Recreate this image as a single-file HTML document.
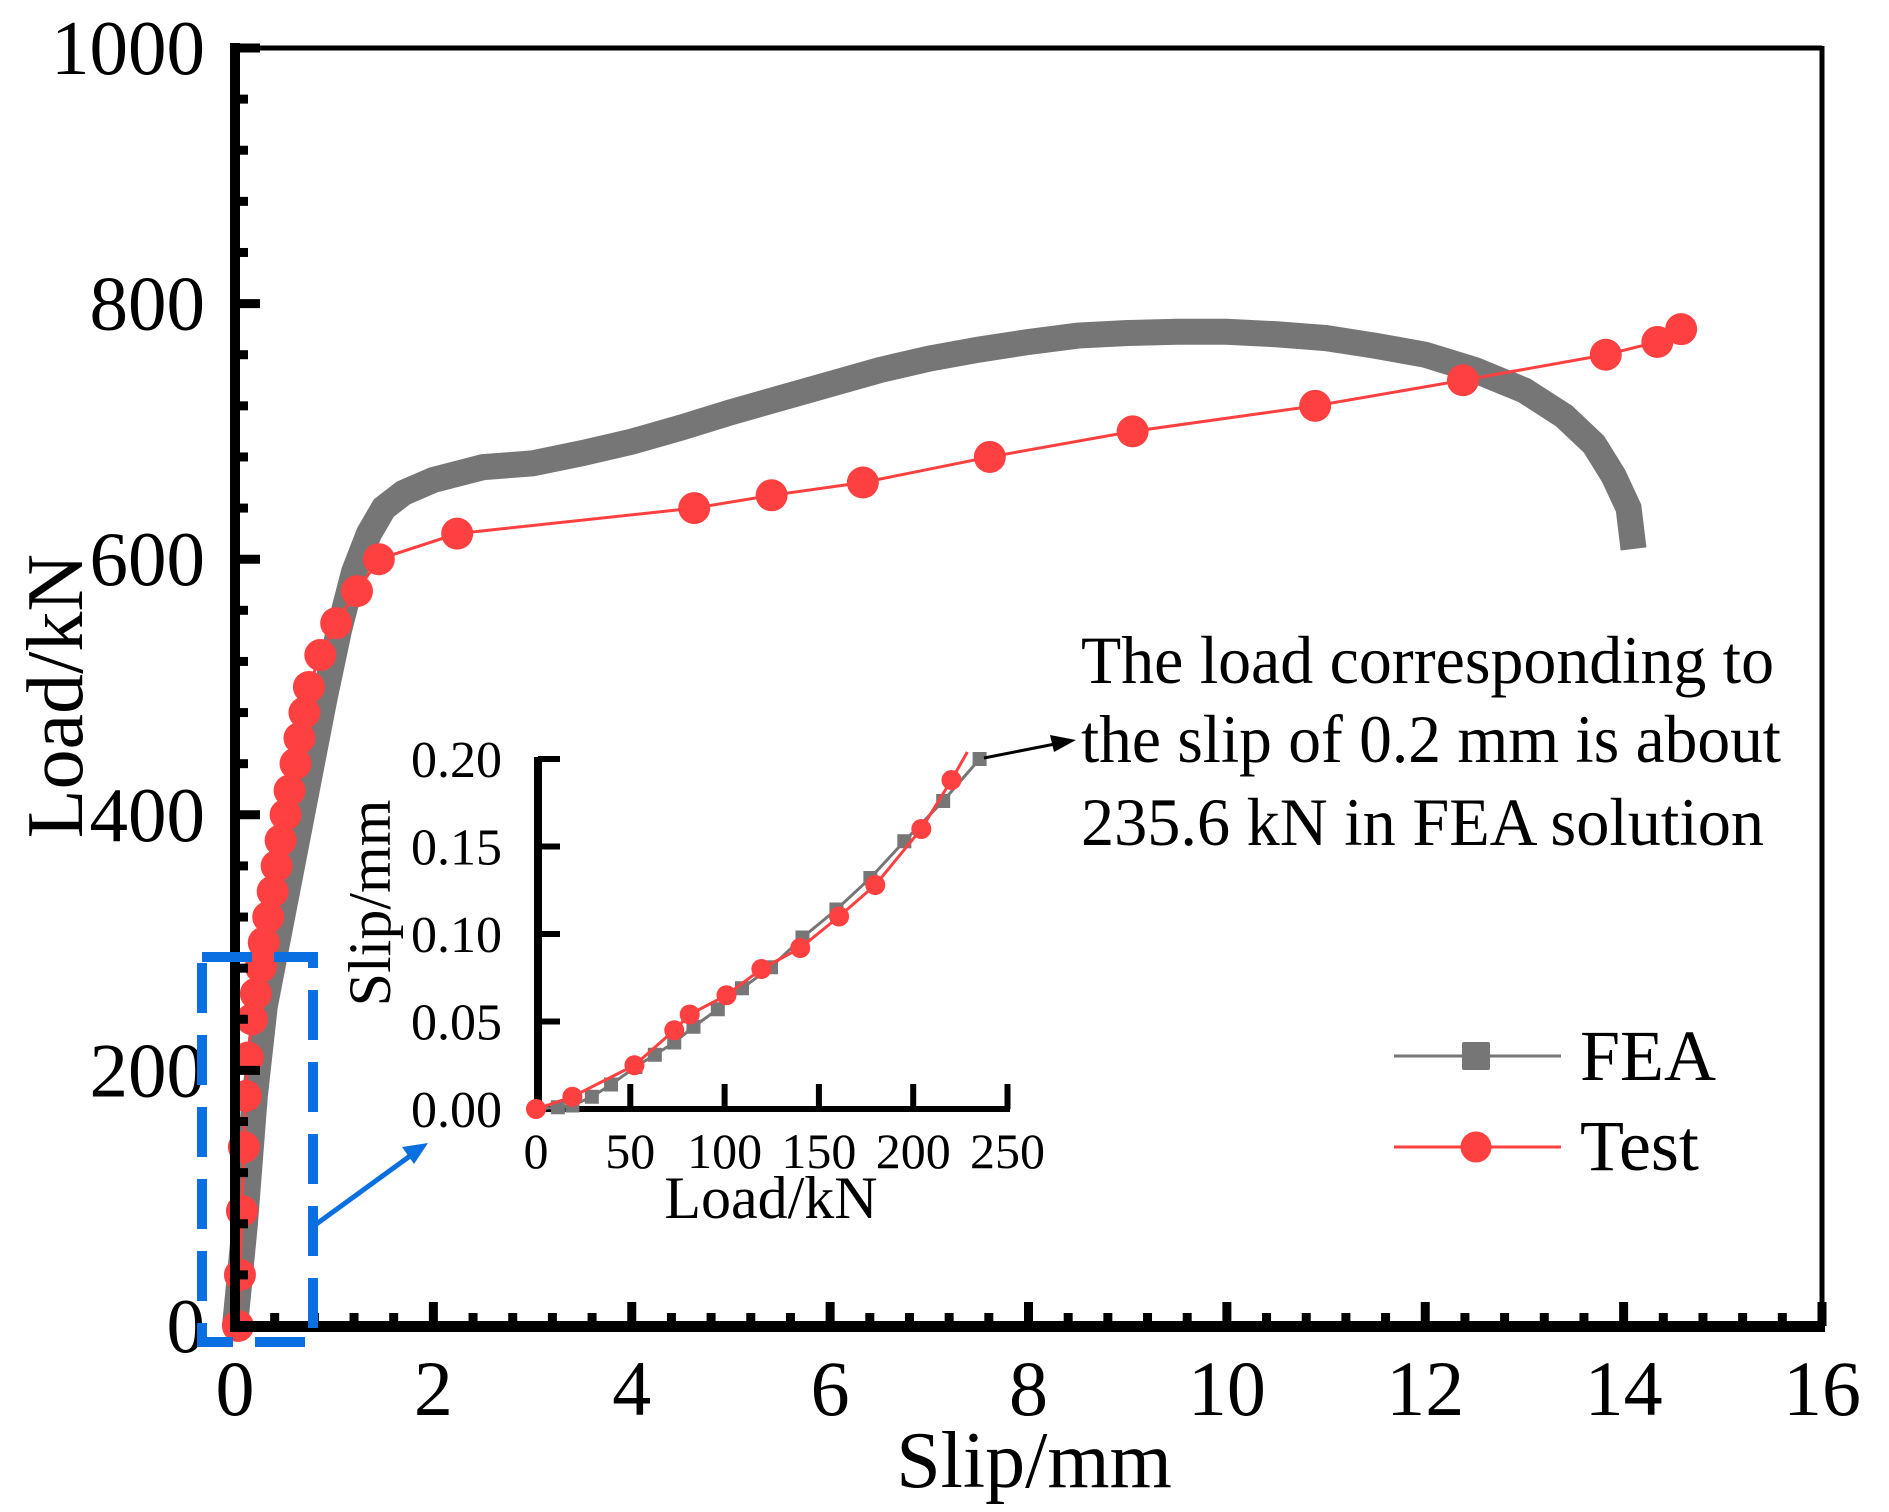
<!DOCTYPE html>
<html><head><meta charset="utf-8"><style>
html,body{margin:0;padding:0;background:#fff;}
svg{display:block;font-family:"Liberation Serif",serif;}
</style></head><body>
<svg id="chart" width="1889" height="1512" viewBox="0 0 1889 1512" xmlns="http://www.w3.org/2000/svg">
<g id="main-series"></g>
<g id="axes"></g>
<g id="inset"></g>
<text x="1034" y="1487" font-size="80" text-anchor="middle">Slip/mm</text>
<text transform="translate(82,696) rotate(-90)" font-size="80" text-anchor="middle">Load/kN</text>
<rect x="202" y="957" width="111" height="385" fill="none" stroke="#0a6fe0" stroke-width="10" stroke-dasharray="50 22"/>
<line x1="315" y1="1225" x2="410" y2="1156" stroke="#0a6fe0" stroke-width="5"/>
<polygon points="428,1143 402,1147 414,1164" fill="#0a6fe0"/>
<line x1="984" y1="758" x2="1055" y2="744" stroke="#000" stroke-width="3"/>
<polygon points="1076,740 1050,735 1054,752" fill="#000"/>
<g font-size="68">
<text x="1081" y="683" textLength="693" lengthAdjust="spacingAndGlyphs">The load corresponding to</text>
<text x="1081" y="762" textLength="700" lengthAdjust="spacingAndGlyphs">the slip of 0.2 mm is about</text>
<text x="1081" y="845" textLength="683" lengthAdjust="spacingAndGlyphs">235.6 kN in FEA solution</text>
</g>
<g>
<g>
<line x1="1394" y1="1056" x2="1561" y2="1056" stroke="#767676" stroke-width="3"/>
<rect x="1462" y="1042" width="28" height="28" rx="2" fill="#767676"/>
<text x="1580" y="1080" font-size="72">FEA</text>
</g>
<g>
<line x1="1394" y1="1147" x2="1561" y2="1147" stroke="#ff4040" stroke-width="3"/>
<circle cx="1476" cy="1147" r="15.5" fill="#ff4040"/>
<text x="1580" y="1170" font-size="72">Test</text>
</g>
</g>
</svg>
<script>
// ---- main chart data ----
const feaSlip = [0,0.1,0.2,0.3,0.45,0.6,0.75,0.9,1.05,1.2,1.35,1.5,1.7,2.0,2.5,3.0,3.5,4.0,4.5,5.0,5.5,6.0,6.5,7.0,7.5,8.0,8.5,9.0,9.5,10.0,10.5,11.0,11.5,12.0,12.5,13.0,13.4,13.7,13.9,14.05,14.1];
const feaLoad = [0,80,180,250,310,370,430,490,545,590,620,640,652,662,672,675,683,692,703,715,726,737,748,757,764,770,775,777,778,778,776,773,767,760,748,732,712,690,665,640,608];
const testSlip = [0.03,0.05,0.07,0.09,0.11,0.13,0.17,0.21,0.26,0.29,0.335,0.38,0.42,0.46,0.51,0.55,0.61,0.65,0.7,0.745,0.86,1.02,1.23,1.45,2.24,4.63,5.41,6.33,7.61,9.05,10.89,12.38,13.82,14.34,14.58];
const testLoad = [0,40,90,140,180,210,240,260,281,300,320,340,360,380,400,419,440,460,480,500,525,550,575,600,620,640,650,660,680,700,720,740,760,770,780];
const xTicks = [0,2,4,6,8,10,12,14,16];
const yTicks = [0,200,400,600,800,1000];
// ---- inset data ----
const insetFeaLoad = [0,11.6,19.3,29.6,39.8,52.7,63,73.3,83.5,96.4,109.2,124.6,141.3,159.3,177.3,195.3,215.9,235.2];
const insetFeaSlip = [0,0.001,0.002,0.007,0.014,0.024,0.031,0.038,0.047,0.057,0.069,0.081,0.098,0.114,0.132,0.153,0.176,0.2];
const insetTestLoad = [0,19.3,52.2,73.3,81.5,101,119.5,140.1,160.7,179.9,204.3,220.3,228.7];
const insetTestSlip = [0,0.007,0.025,0.045,0.054,0.065,0.08,0.092,0.11,0.128,0.16,0.188,0.204];
const insetXTicks = [0,50,100,150,200,250];
const insetYTicks = [0,0.05,0.1,0.15,0.2];
const insetYLabels = ["0.00","0.05","0.10","0.15","0.20"];

const NS = "http://www.w3.org/2000/svg";
function mk(tag, attrs, parent){const e=document.createElementNS(NS,tag);for(const k in attrs)e.setAttribute(k,attrs[k]);parent.appendChild(e);return e;}
const X = v => 235 + v*(1822-235)/16;
const Y = v => 1326 - v*(1326-48)/1000;
const IX = v => 536 + v*94.3/50;
const IY = v => 1109 - v*87.5/0.05;

const mainG = document.getElementById('main-series');
let pts = feaSlip.map((s,i)=>X(s)+','+Y(feaLoad[i])).join(' ');
const feaBand = mk('polyline',{points:pts,fill:'none',stroke:'#767676','stroke-width':26,'stroke-linejoin':'miter','stroke-linecap':'butt'},mainG);


pts = testSlip.map((s,i)=>X(s)+','+Y(testLoad[i])).join(' ');
const testLine = mk('polyline',{points:pts,fill:'none',stroke:'#ff4040','stroke-width':3},mainG);


testSlip.forEach((s,i)=>{
  const c = mk('circle',{cx:X(s),cy:Y(testLoad[i]),r:16,fill:'#ff4040'},mainG);
  
  
});

const ax = document.getElementById('axes');
mk('line',{x1:235,y1:48,x2:1822,y2:48,stroke:'#000','stroke-width':5},ax);
mk('line',{x1:1822,y1:46,x2:1822,y2:1326,stroke:'#000','stroke-width':5},ax);
mk('line',{x1:235,y1:43,x2:235,y2:1332,stroke:'#000','stroke-width':10},ax);
mk('line',{x1:230,y1:1326.5,x2:1825,y2:1326.5,stroke:'#000','stroke-width':11},ax);
for(let v=0; v<=16.001; v+=0.4){
  const major = Math.abs(v/2-Math.round(v/2))<1e-6;
  mk('line',{x1:X(v),x2:X(v),y1:1326,y2:major?1302:1313,stroke:'#000','stroke-width':9},ax);
}
for(let v=0; v<=1000.001; v+=40){
  const major = Math.abs(v/200-Math.round(v/200))<1e-6;
  mk('line',{x1:235,x2:major?260:248,y1:Y(v),y2:Y(v),stroke:'#000','stroke-width':9},ax);
}
xTicks.forEach(v=>{
  const t = mk('text',{x:X(v),y:1415,'font-size':78,'text-anchor':'middle'},ax);
  t.textContent = v;
  
  
});
yTicks.forEach(v=>{
  const t = mk('text',{x:205,y:Y(v)+26,'font-size':77,'text-anchor':'end'},ax);
  t.textContent = v;
  
  
});

const ig = document.getElementById('inset');
mk('line',{x1:538,y1:757,x2:538,y2:1112,stroke:'#000','stroke-width':8},ig);
mk('line',{x1:534,y1:1109,x2:1010,y2:1109,stroke:'#000','stroke-width':6},ig);
insetYTicks.forEach((v,i)=>{
  mk('line',{x1:538,x2:560,y1:IY(v),y2:IY(v),stroke:'#000','stroke-width':6},ig);
  const t = mk('text',{x:502,y:IY(v)+18,'font-size':52,'text-anchor':'end'},ig);
  t.textContent = insetYLabels[i];
  
  
});
insetXTicks.forEach(v=>{
  if(v>0) mk('line',{x1:IX(v),x2:IX(v),y1:1109,y2:1084,stroke:'#000','stroke-width':6},ig);
  const t = mk('text',{x:IX(v),y:1168,'font-size':50,'text-anchor':'middle'},ig);
  t.textContent = v;
  
  
});
const ixt = mk('text',{x:771,y:1218,'font-size':60,'text-anchor':'middle'},ig);
ixt.textContent='Load/kN';


const iyt = mk('text',{transform:'translate(390,903) rotate(-90)','font-size':60,'text-anchor':'middle'},ig);
iyt.textContent='Slip/mm';



pts = insetFeaLoad.map((l,i)=>IX(l)+','+IY(insetFeaSlip[i])).join(' ');
const ifl = mk('polyline',{points:pts,fill:'none',stroke:'#767676','stroke-width':3},ig);


insetFeaLoad.forEach((l,i)=>{
  const r = mk('rect',{x:IX(l)-7,y:IY(insetFeaSlip[i])-7,width:14,height:14,fill:'#767676'},ig);
  
  
});
pts = insetTestLoad.map((l,i)=>IX(l)+','+IY(insetTestSlip[i])).join(' ');
const itl = mk('polyline',{points:pts,fill:'none',stroke:'#ff4040','stroke-width':3},ig);


insetTestLoad.forEach((l,i)=>{
  if(i===insetTestLoad.length-1) return;
  const c = mk('circle',{cx:IX(l),cy:IY(insetTestSlip[i]),r:10,fill:'#ff4040'},ig);
  
  
});
</script>
</body></html>
